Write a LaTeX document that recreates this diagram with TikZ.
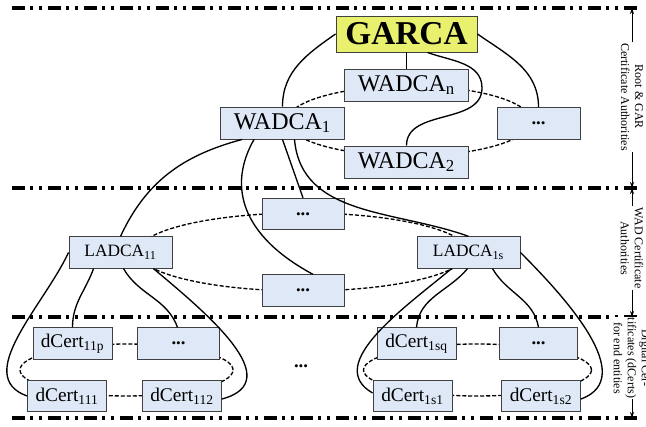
\documentclass[tikz,border=0pt]{standalone}
\usepackage{fontspec}
\setmainfont{Liberation Serif}
\usetikzlibrary{arrows.meta,positioning,calc}

\definecolor{boxblue}{RGB}{222,232,246}
\definecolor{rootyellow}{RGB}{232,240,110}

\begin{document}
\begin{tikzpicture}[x=0.75pt,y=-0.75pt,
    box/.style={rectangle, draw=black!75, line width=0.7pt, fill=boxblue, inner sep=0pt, minimum height=23.5pt},
    wadbox/.style={box, minimum width=93pt, minimum height=24pt, font=\fontsize{18}{18}\selectfont},
    ladbox/.style={box, minimum width=77.25pt, font=\fontsize{13}{13}\selectfont},
    certbox/.style={box, minimum width=59.25pt, font=\fontsize{14.5}{14.5}\selectfont},
    dotbox/.style={box, font=\fontsize{14}{14}\selectfont\bfseries},
    link/.style={line width=1pt},
    ring/.style={line width=1pt, dash pattern=on 3pt off 1.5pt},
    layer/.style={line width=2.7pt, dash pattern=on 9.75pt off 3.75pt on 2.5pt off 4pt on 2.5pt off 4.5pt},
    span/.style={{Stealth[length=4.5pt,width=3pt]}-{Stealth[length=4.5pt,width=3pt]}, line width=0.6pt},
    tag/.style={rotate=-90, fill=white, align=center, inner sep=1pt, font=\fontsize{9}{10.5}\selectfont}
]
\useasboundingbox (0,0) rectangle (646,427);

% layer borders
\foreach \y/\n in {8/a,188/b,317/c,418/d} {
  \draw[layer] (12,\y) -- (637,\y);
  \coordinate (edge\n) at (632,\y);
}

% dashed rings behind the boxes
\draw[ring] (409,121) ellipse [x radius=91.5pt, y radius=26.25pt];
\draw[ring] (303,252) ellipse [x radius=123.75pt, y radius=29.25pt];
\draw[ring] (126.5,370) ellipse [x radius=79.9pt, y radius=19.5pt];
\draw[ring] (477.5,370) ellipse [x radius=85.5pt, y radius=19.5pt];

% root and WAD authorities
\node[box, fill=rootyellow, minimum width=105.75pt, minimum height=27pt, font=\fontsize{25}{25}\selectfont\bfseries] (garca) at (406.5,34) {GARCA};
\node[wadbox] (wadcan) at (406.5,85) {WADCA\textsubscript{n}};
\node[wadbox] (wadca1) at (282.5,123) {WADCA\textsubscript{1}};
\node[dotbox, minimum width=62.25pt, minimum height=24pt] (wadcadots) at (538.5,123.5) {...};
\node[wadbox] (wadca2) at (406.5,162) {WADCA\textsubscript{2}};

% LAD authorities
\node[dotbox, minimum width=61.5pt] (ladcadots1) at (303,214) {...};
\node[dotbox, minimum width=61.5pt] (ladcadots2) at (303,290.5) {...};
\node[ladbox] (ladca11) at (120.5,252.5) {LADCA\textsubscript{11}};
\node[ladbox] (ladca1s) at (468.5,252.5) {LADCA\textsubscript{1s}};

% end entity certificates
\node[certbox] (dcert11p) at (72.5,343.5) {dCert\textsubscript{11p}};
\node[dotbox, minimum width=61.5pt] (certdotsl) at (178.5,343.5) {...};
\node[certbox] (dcert111) at (67,396) {dCert\textsubscript{111}};
\node[certbox] (dcert112) at (182,396) {dCert\textsubscript{112}};
\node[certbox] (dcert1sq) at (416.5,343.5) {dCert\textsubscript{1sq}};
\node[dotbox, minimum width=59pt] (certdotsr) at (538.5,343.5) {...};
\node[certbox] (dcert1s1) at (412.5,396) {dCert\textsubscript{1s1}};
\node[certbox] (dcert1s2) at (541,396) {dCert\textsubscript{1s2}};
\node[font=\fontsize{14}{14}\selectfont\bfseries] (middots) at (301,366) {...};

% root to WAD
\draw[link] (garca.west) to[out=215,in=90] (wadca1.north);
\draw[link] (garca.east) to[out=-35,in=90] (wadcadots.north);
\draw[link] (garca.south) -- (wadcan.north);
\coordinate (bend) at (482,88);
\draw[link] ($(garca.south)+(21,0)$) to[out=-20,in=90] (bend) to[out=-90,in=90] (wadca2.north);

% WAD to LAD
\draw[link] ($(wadca1.south west)+(22,0)$) to[out=195,in=65] (ladca11.north);
\draw[link] ($(wadca1.south west)+(34,0)$) .. controls (228,185) and (240,235) .. ($(ladcadots2.north)+(10,0)$);
\draw[link] (wadca1.south) -- (ladcadots1.north);
\draw[link] ($(wadca1.south)+(12,0)$) to[out=-85,in=160] (ladca1s.north);

% LAD to dCerts, left
\draw[link] (ladca11.west) to[out=-115,in=160] (dcert111.west);
\draw[link] ($(ladca11.south west)+(25,0)$) to[out=-110,in=90] (dcert11p.north);
\draw[link] ($(ladca11.south west)+(55,0)$) to[out=-60,in=110] ($(certdotsl.north)+(-1,0)$);
\draw[link] ($(ladca11.south east)+(-19,0)$) to[out=-40,in=15,looseness=1.2] ($(dcert112.east)+(0,3)$);

% LAD to dCerts, right
\draw[link] ($(ladca1s.south west)+(35,0)$) to[out=-140,in=150] ($(dcert1s1.west)+(0,-3)$);
\draw[link] ($(ladca1s.south west)+(51,0)$) to[out=-130,in=85] (dcert1sq.north);
\draw[link] ($(ladca1s.south west)+(76,0)$) to[out=-60,in=100] (certdotsr.north);
\draw[link] (ladca1s.east) to[out=-45,in=20] ($(dcert1s2.east)+(0,3)$);

% layer spans
\draw[span] (edgea) -- (edgeb);
\draw[span] (edgeb) -- (edgec);
\draw[span] (edgec) -- (edged);
\node[tag] (roottag) at (632,97) {Root \& GAR\\Certificate Authorities};
\node[tag] (wadtag) at (632,248) {WAD Certificate\\Authorities};
\node[tag] (certtag) at (632,358) {Digital Cer-\\tificates (dCerts)\\for end entities};

\end{tikzpicture}
\end{document}
